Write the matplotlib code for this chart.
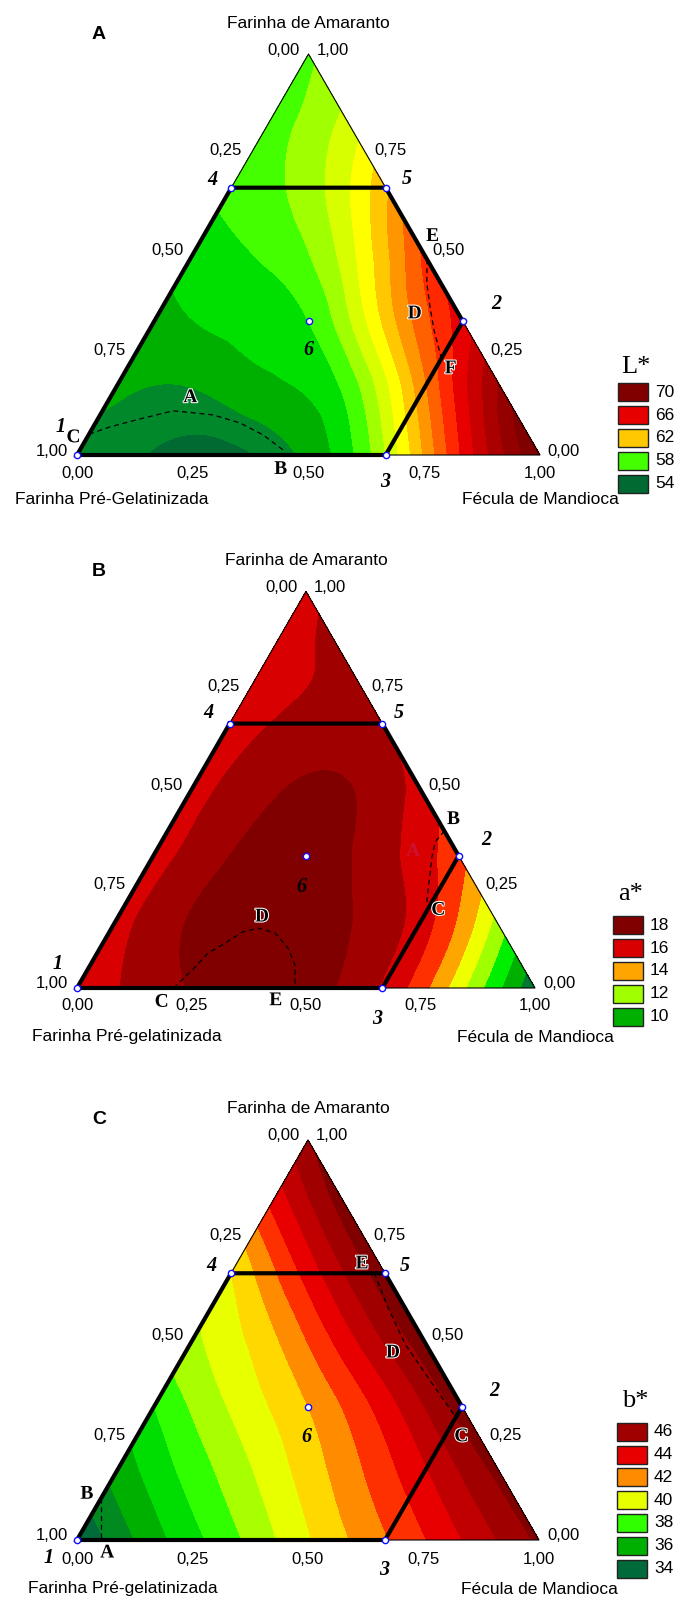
import numpy as np
import matplotlib
matplotlib.use("Agg")
import matplotlib.pyplot as plt
import matplotlib.tri as mtri
from matplotlib.colors import ListedColormap
from matplotlib.patches import Rectangle
import matplotlib.patheffects as pe

plt.rcParams['font.family'] = ['Liberation Sans', 'DejaVu Sans']

S3 = np.sqrt(3) / 2
FIG_W, FIG_H = 678, 1597

# responses read off the picture on the simplex lattice (step 1/6)
# row k -> Farinha de Amaranto = k/6 ; entries -> Fécula de Mandioca = 0, 1/6, ...
L_star = [
    [55.6, 54.9, 54.6, 56.3, 60.0, 66.2, 71.0],
    [56.2, 56.0, 56.8, 58.3, 63.8, 69.3],
    [56.8, 57.2, 58.0, 62.3, 66.5],
    [57.3, 58.2, 60.5, 65.2],
    [58.3, 59.5, 62.8],
    [58.5, 60.3],
    [58.8],
]
a_star = [
    [16.5, 17.5, 18.5, 18.4, 16.9, 13.4, 9.2],
    [16.6, 18.1, 18.7, 18.1, 16.5, 12.7],
    [16.5, 18.0, 18.5, 17.4, 15.3],
    [16.6, 17.8, 18.1, 16.6],
    [16.5, 17.3, 17.0],
    [16.5, 17.2],
    [16.8],
]
b_star = [
    [34.0, 36.6, 38.7, 40.9, 42.9, 45.0, 47.2],
    [36.3, 38.4, 40.4, 42.5, 44.8, 47.3],
    [38.0, 40.1, 42.0, 44.5, 47.5],
    [39.8, 41.7, 44.6, 47.6],
    [41.0, 44.4, 47.6],
    [44.0, 47.5],
    [46.8],
]

# band colours, one per unit step starting at the lowest level
L_colors = ['#006a32', '#00882a', '#00b000', '#00e000', '#44ff00', '#a0ff00',
            '#d8ff00', '#ffff00', '#ffc800', '#ff9600', '#ff6000', '#ff2800',
            '#e60000', '#c80000', '#aa0000', '#940000', '#800000']
a_colors = ['#007a30', '#00b000', '#00ee00', '#a0ff00', '#f0ff00', '#ffa500',
            '#ff3000', '#d80000', '#a00000', '#800000']
b_colors = ['#006a3a', '#008a20', '#00b000', '#00dd00', '#30ff00', '#a8ff00',
            '#e8ff00', '#ffd800', '#ff8c00', '#ff3000', '#e80000', '#c00000',
            '#a00000', '#800000']

L_legend = [70, 66, 62, 58, 54]
a_legend = [18, 16, 14, 12, 10]
b_legend = [46, 44, 42, 40, 38, 36, 34]

# design points 1..6 (fécula, amaranto)
point_f = [0, 2/3, 2/3, 0, 1/3, 1/3]
point_a = [0, 1/3, 0, 2/3, 2/3, 1/3]
region = [3, 4, 1, 2, 0, 3]   # 4-5-2-3-1-4

# dashed region borders (fécula, amaranto)
A_dash = [([0.0, 0.036, 0.091, 0.152, 0.184, 0.244, 0.312, 0.377, 0.439, 0.447],
           [0.052, 0.07, 0.09, 0.11, 0.107, 0.1, 0.08, 0.05, 0.0125, 0.0]),
          ([0.512, 0.541, 0.578, 0.615, 0.657, 0.667],
           [0.488, 0.429, 0.369, 0.312, 0.254, 0.24])]
B_dash = [([0.211, 0.229, 0.242, 0.267, 0.29, 0.32, 0.363, 0.411, 0.447, 0.476],
           [0.0, 0.045, 0.088, 0.113, 0.141, 0.151, 0.139, 0.1, 0.058, 0.0]),
          ([0.604, 0.598, 0.61, 0.626, 0.643, 0.653, 0.667],
           [0.396, 0.368, 0.33, 0.29, 0.247, 0.222, 0.2])]
C_dash = [([0.0, 0.052], [0.104, 0.0]),
          ([0.31, 0.381, 0.466, 0.569, 0.654, 0.667],
           [0.667, 0.583, 0.489, 0.395, 0.318, 0.305])]

# letters (x along base, fraction of height)
A_letters = [('A', .245, .143), ('B', .44, -.036), ('C', -.0075, .043),
             ('D', .7295, .352), ('E', .768, .545), ('F', .807, .215)]
B_letters = [('B', .822, .4247), ('C', .789, .196), ('D', .404, .179),
             ('C', .185, -.036), ('E', .434, -.032)]
C_letters = [('B', .0215, .1145), ('A', .0654, -.0325), ('E', .617, .69),
             ('D', .684, .4675), ('C', .832, .258)]

A_num_off = [(-16, 28), (33, 17), (0, -27), (-19, 8), (21, 9), (0, -29)]
B_num_off = [(-19, 24), (28, 16), (-5, -31), (-21, 11), (16, 11), (-5, -31)]
C_num_off = [(-28, -18), (32, 16), (-1, -30), (-20, 7), (20, 7), (-2, -30)]

ticks = [0, 0.25, 0.5, 0.75, 1.0]


def to_xy(f, a):
    f = np.asarray(f, float)
    a = np.asarray(a, float)
    return f + a / 2, a * S3


def lattice(rows):
    f, a, z = [], [], []
    for j, row in enumerate(rows):
        for i, v in enumerate(row):
            f.append(i / 6)
            a.append(j / 6)
            z.append(v)
    return np.array(f), np.array(a), np.array(z)


def fmt(v):
    return f"{v:.2f}".replace('.', ',')


fig = plt.figure(figsize=(FIG_W / 100, FIG_H / 100), dpi=100)


def panel(base_y, W, rows, colors, lo, dashes, letters, num_off, legend_vals,
          legend_title, title_gap, tag, left_title, left_dx, title_dy, tick_dy,
          extra=None):
    H = W * S3
    ax = fig.add_axes([77 / FIG_W, (FIG_H - base_y) / FIG_H, W / FIG_W, H / FIG_H])
    ax.set_xlim(0, 1)
    ax.set_ylim(0, S3)
    ax.axis('off')
    px = 1.0 / W

    f, a, z = lattice(rows)
    x, y = to_xy(f, a)
    tri = mtri.Triangulation(x, y)
    interp = mtri.CubicTriInterpolator(tri, z, kind='min_E')
    rtri, rz = mtri.UniformTriRefiner(tri).refine_field(z, triinterpolator=interp,
                                                        subdiv=4)
    hi = lo + len(colors) - 1
    cmap = ListedColormap(colors[:-1])
    cmap.set_under(colors[0])
    cmap.set_over(colors[-1])
    ax.tricontourf(rtri, rz, levels=np.arange(lo, hi + 1), cmap=cmap,
                   extend='both', zorder=1)

    for df, da in dashes:
        dx, dy = to_xy(df, da)
        ax.plot(dx, dy, color='black', lw=0.9, ls=(0, (4, 3)), zorder=3)

    ax.plot([0, 1, 0.5, 0], [0, 0, S3, 0], color='black', lw=0.8, zorder=4,
            clip_on=False)
    pf = [point_f[i] for i in region]
    pa = [point_a[i] for i in region]
    rx, ry = to_xy(pf, pa)
    ax.plot(rx, ry, color='black', lw=3, zorder=5, clip_on=False,
            solid_joinstyle='miter')
    mx, my = to_xy(point_f, point_a)
    ax.plot(mx, my, 'o', ms=4.5, mfc='white', mec='#1010ff', mew=1, zorder=6,
            clip_on=False)

    for k, (ox, oy) in enumerate(num_off):
        ax.annotate(str(k + 1), (mx[k], my[k]), xytext=(ox, oy),
                    textcoords='offset pixels', ha='center', va='center',
                    fontsize=14.5, fontweight='bold', fontstyle='italic',
                    family='Liberation Serif', zorder=7)

    for t, lx, lh in letters:
        ax.text(lx, lh * S3, t, ha='center', va='center', fontsize=14,
                fontweight='bold', family='Liberation Serif', zorder=7,
                path_effects=[pe.withStroke(linewidth=1.5, foreground='white')])
    if extra:
        t, lx, lh = extra
        ax.text(lx, lh * S3, t, ha='center', va='center', fontsize=14,
                fontweight='bold', family='Liberation Serif', color='#c81848',
                alpha=0.7, zorder=7)

    # ticks
    for v in ticks:
        ax.annotate(fmt(v), (v, 0), xytext=(0, tick_dy), textcoords='offset pixels',
                    ha='center', va='center', fontsize=12)
        la = 1 - v
        ax.annotate(fmt(v), (la / 2, la * S3), xytext=(-25, 4),
                    textcoords='offset pixels', ha='center', va='center', fontsize=12)
        ax.annotate(fmt(v), (1 - v / 2, v * S3), xytext=(24, 4),
                    textcoords='offset pixels', ha='center', va='center', fontsize=12)

    ax.annotate('Farinha de Amaranto', (0.5, S3), xytext=(0, 31),
                textcoords='offset pixels', ha='center', va='center', fontsize=12.5)
    ax.annotate(left_title, (0, 0), xytext=(left_dx, title_dy),
                textcoords='offset pixels', ha='center', va='center', fontsize=12.5)
    ax.annotate('Fécula de Mandioca', (1, 0), xytext=(0, title_dy),
                textcoords='offset pixels', ha='center', va='center', fontsize=12.5)
    ax.annotate(tag, (0, S3), xytext=(22, 20), textcoords='offset pixels',
                ha='center', va='center', fontsize=14, fontweight='bold')

    # legend
    n = len(legend_vals)
    pitch = 22.8
    for k, v in enumerate(legend_vals):
        cy = -28.5 + (n - 1 - k) * pitch
        ax.add_patch(Rectangle((1 + 78 * px, (cy - 9) * px), 30 * px, 18 * px,
                               facecolor=colors[v - lo], edgecolor='#222222',
                               lw=1, clip_on=False, zorder=7))
        ax.text(1 + 115 * px, cy * px, str(v), ha='left', va='center', fontsize=12.5)
    top_cy = -28.5 + (n - 1) * pitch
    ax.text(1 + 96 * px, (top_cy + title_gap) * px, legend_title, ha='center',
            va='center', fontsize=19, family='Liberation Serif')
    return ax


panel(455, 463, L_star, L_colors, 54, A_dash, A_letters, A_num_off, L_legend,
      'L*', 25, 'A', 'Farinha Pré-Gelatinizada', 35, -44, -18)
panel(988, 458, a_star, a_colors, 9, B_dash, B_letters, B_num_off, a_legend,
      'a*', 31, 'B', 'Farinha Pré-gelatinizada', 50, -49, -18,
      extra=('A', .734, .343))
panel(1540, 462, b_star, b_colors, 34, C_dash, C_letters, C_num_off, b_legend,
      'b*', 31, 'C', 'Farinha Pré-gelatinizada', 46, -49, -20)

fig.savefig('out.png', dpi=100)
